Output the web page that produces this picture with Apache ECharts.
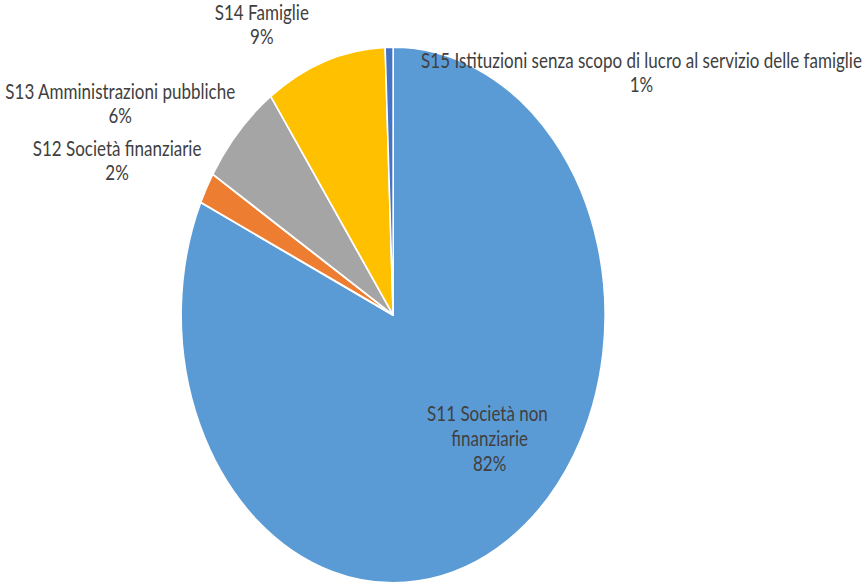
<!DOCTYPE html>
<html>
<head>
<meta charset="utf-8">
<script src="https://cdn.jsdelivr.net/npm/echarts@6/dist/echarts.min.js"></script>
<style>
  html, body { margin: 0; padding: 0; background: #fff; overflow: hidden; }
  #wrap { width: 866px; height: 584px; overflow: hidden; position: relative; }
  /* the chart is laid out wider, then narrowed so the pie reads as an upright oval */
  #chart { width: 1095px; height: 584px; transform: scaleX(0.791); transform-origin: 0 0; }
</style>
</head>
<body>
<div id="wrap"><div id="chart"></div></div>
<script>
// Sectors of the economy (share, %)
const categories = [
  'S11 Società non finanziarie',
  'S12 Società finanziarie',
  'S13 Amministrazioni pubbliche',
  'S14 Famiglie',
  'S15 Istituzioni senza scopo di lucro al servizio delle famiglie'
];
const shares = [81.9, 1.9, 6.4, 9.2, 0.6];
const colors = ['#5B9BD5', '#ED7D31', '#A5A5A5', '#FFC000', '#4472C4'];

// label anchor points (chart pixels, before the horizontal narrowing)
const labelAnchors = [
  [619, 438],
  [148, 160],
  [152, 103],
  [331, 24],
  [811, 72]
];

const chart = echarts.init(document.getElementById('chart'), null, { renderer: 'svg' });

chart.setOption({
  backgroundColor: '#ffffff',
  animation: false,
  series: [{
    type: 'pie',
    center: [497, 315],
    radius: 268,
    startAngle: 90,
    clockwise: true,
    avoidLabelOverlap: false,
    itemStyle: { borderColor: '#ffffff', borderWidth: 2 },
    label: {
      show: true,
      color: '#404040',
      fontFamily: 'Lato, "Liberation Sans", sans-serif',
      fontSize: 21.5,
      lineHeight: 24,
      align: 'center',
      formatter: p => p.name + '\n' + Math.round(p.percent) + '%'
    },
    labelLine: { show: false },
    labelLayout: p => ({
      x: labelAnchors[p.dataIndex][0],
      y: labelAnchors[p.dataIndex][1],
      align: 'center',
      verticalAlign: 'middle'
    }),
    data: categories.map((name, i) => ({
      name: name,
      value: shares[i],
      itemStyle: { color: colors[i] },
      label: i === 0 ? { width: 170, overflow: 'break', lineHeight: 25 } : {}
    }))
  }]
});
</script>
</body>
</html>
